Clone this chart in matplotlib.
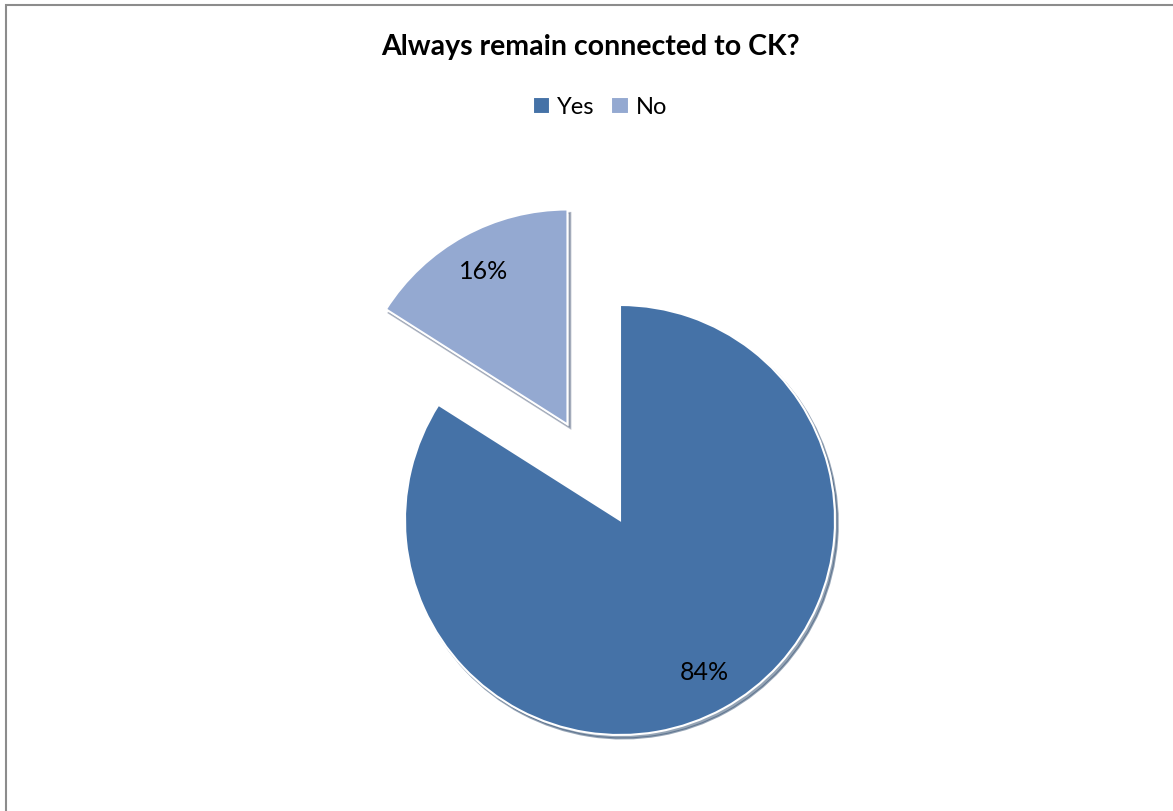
import matplotlib
matplotlib.use("Agg")
import matplotlib.pyplot as plt
from matplotlib.patches import Rectangle

categories = ["Yes", "No"]
values = [84, 16]
colors = ["#4572A7", "#94A9D1"]
title = "Always remain connected to CK?"

W, H = 1173, 811
fig = plt.figure(figsize=(W / 100, H / 100), dpi=100)
ax = fig.add_axes([0, 0, 1, 1])
plt.rcParams["font.family"] = ["Lato", "DejaVu Sans"]

radius = 215
center = (620, H - 520)
wedges, texts, autotexts = ax.pie(
    values,
    colors=colors,
    startangle=90,
    counterclock=False,
    explode=[0, 109],
    radius=radius,
    center=center,
    autopct=lambda p: f"{p:.0f}%",
    pctdistance=0.81,
    shadow={"ox": 2.0, "oy": -2.5, "shade": 0.35},
    wedgeprops={"edgecolor": "white", "linewidth": 1.5},
    textprops={"fontsize": 18, "color": "black", "family": ["Lato", "DejaVu Sans"]},
    frame=True,
)
ax.set_xlim(0, W)
ax.set_ylim(0, H)
ax.set_aspect("equal")
ax.axis("off")

fig.text(590 / W, 1 - 47 / H, title, ha="center", va="center",
         fontsize=20.5, fontweight="bold", family=["Lato", "DejaVu Sans"])

leg = fig.legend(wedges, categories, loc="center", bbox_to_anchor=(600 / W, 1 - 107 / H),
                 ncol=2, frameon=False, handlelength=0.75, handleheight=0.75,
                 handletextpad=0.3, columnspacing=0.7,
                 prop={"family": ["Lato", "DejaVu Sans"], "size": 17})

# outer border (left and top visible)
fig.add_artist(Rectangle((6 / W, -0.01), 1.1, 1 - 5 / H + 0.01, transform=fig.transFigure,
                         fill=False, edgecolor="#8C8C8C", linewidth=1.5))

fig.savefig("out.png", dpi=100)
